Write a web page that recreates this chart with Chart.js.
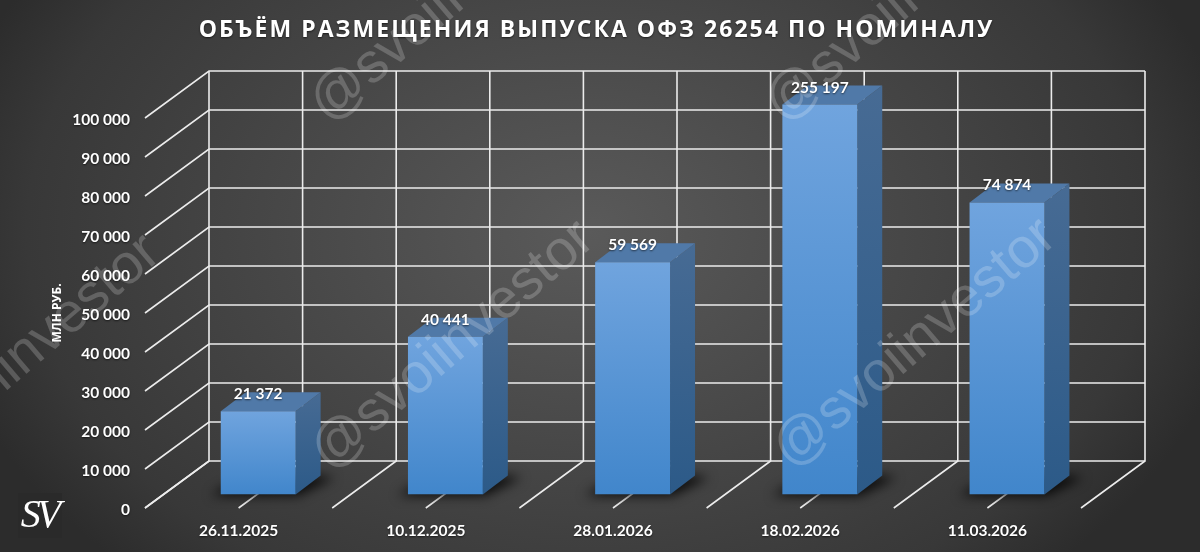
<!DOCTYPE html>
<html><head><meta charset="utf-8">
<style>
html,body{margin:0;padding:0;width:1200px;height:552px;overflow:hidden;background:#333}
#w{position:relative;width:1200px;height:552px;background:radial-gradient(ellipse 660px 470px at 49% 42%,#5a5a5a 0%,#484848 45%,#383838 85%,#2c2c2c 100%)}
</style>
<script src="https://cdn.jsdelivr.net/npm/chart.js@4"></script>
</head><body><div id="w"><canvas id="c" width="1200" height="552"></canvas></div>
<script>
const categories=['26.11.2025','10.12.2025','28.01.2026','18.02.2026','11.03.2026'];
const volumes=[21372,40441,59569,255197,74874];
const axisMax=100000;
const axisStep=10000;
const titleText='ОБЪЁМ РАЗМЕЩЕНИЯ ВЫПУСКА ОФЗ 26254 ПО НОМИНАЛУ';
const axisTitle='МЛН РУБ.';
const watermark='@svoiinvestor';
const fmt=v=>String(v).replace(/\B(?=(\d{3})+$)/g,' ');
const FONT='Lato';
const wall={dx:64,dy:-47};
const barShift={dx:19.6,dy:-13.5};
const depth={dx:25,dy:-19};

function softShadow(c){c.shadowColor='rgba(0,0,0,.6)';c.shadowBlur=2;c.shadowOffsetY=1;}
const scene={
  id:'scene',
  afterLayout(chart){
    const t=chart.titleBlock,c=chart.ctx;
    if(t&&!t._w){t._w=true;const d=t.draw.bind(t);
      t.draw=function(){c.save();c.letterSpacing='2.05px';c.translate(56,1);softShadow(c);d();c.restore();};}
    const sy=chart.scales.y,sx=chart.scales.x;
    if(!sy._w){sy._w=true;const o=sy.drawLabels.bind(sy);
      sy.drawLabels=function(a){c.save();c.translate(0,2);softShadow(c);o(a);c.restore();};
      const ox=sx.drawLabels.bind(sx);
      sx.drawLabels=function(a){c.save();softShadow(c);ox(a);c.restore();};}
  },
  beforeDatasetsDraw(chart){
    const c=chart.ctx,x=chart.scales.x,y=chart.scales.y,a=chart.chartArea;
    c.save();
    c.strokeStyle='#ececec';c.lineWidth=1.6;
    y.ticks.forEach(t=>{
      const py=y.getPixelForValue(t.value);
      c.beginPath();c.moveTo(a.left,py);c.lineTo(a.left+wall.dx,py+wall.dy);c.lineTo(a.right+wall.dx,py+wall.dy);c.stroke();
    });
    const n=categories.length,step=(x.getPixelForTick(1)-x.getPixelForTick(0))/2;
    for(let i=0;i<=2*n;i++){
      const fx=a.left+i*step;
      c.beginPath();c.moveTo(fx,a.bottom);c.lineTo(fx+wall.dx,a.bottom+wall.dy);c.lineTo(fx+wall.dx,a.top+wall.dy);c.stroke();
    }
    c.restore();
    c.save();
    c.translate(barShift.dx,barShift.dy);
    const meta=chart.getDatasetMeta(0);
    meta.data.forEach(b=>{
      const l=b.x-b.width/2,r=b.x+b.width/2,yb=a.bottom;
      c.save();c.filter='blur(6px)';c.fillStyle='rgba(0,0,0,.85)';
      c.beginPath();c.moveTo(l-10,yb+1);c.lineTo(r+2,yb+1);c.lineTo(r+depth.dx+14,yb+depth.dy+2);c.lineTo(r+depth.dx-5,yb+depth.dy);c.lineTo(l+5,yb-8);c.closePath();c.fill();c.restore();
    });
    meta.data.forEach((b,i)=>{
      const v=Math.min(volumes[i],axisMax),top=y.getPixelForValue(v),yb=a.bottom;
      const l=b.x-b.width/2,r=b.x+b.width/2;
      const g=c.createLinearGradient(0,top+depth.dy,0,yb);
      g.addColorStop(0,'#476b94');g.addColorStop(1,'#2c5a88');
      c.fillStyle=g;
      c.beginPath();c.moveTo(r,top);c.lineTo(r+depth.dx,top+depth.dy);c.lineTo(r+depth.dx,yb+depth.dy);c.lineTo(r,yb);c.closePath();c.fill();
      c.fillStyle='#5079a8';
      c.beginPath();c.moveTo(l,top);c.lineTo(r,top);c.lineTo(r+depth.dx,top+depth.dy);c.lineTo(l+depth.dx,top+depth.dy);c.closePath();c.fill();
    });
  },
  afterDatasetsDraw(chart){
    const c=chart.ctx,y=chart.scales.y,meta=chart.getDatasetMeta(0);
    c.save();
    c.fillStyle='#fff';c.font='bold 15.5px '+FONT;c.textAlign='center';c.textBaseline='middle';
    softShadow(c);
    meta.data.forEach((b,i)=>{
      const top=y.getPixelForValue(Math.min(volumes[i],axisMax));
      c.fillText(fmt(volumes[i]),b.x,top-17);
    });
    c.restore();
    c.restore();
  },
  afterDraw(chart){
    const c=chart.ctx;
    [[328,124],[329,472],[783,124],[791,470],[-105,486]].forEach(p=>{
      c.save();c.translate(p[0],p[1]);c.rotate(-40.5*Math.PI/180);
      c.font='56px "Liberation Sans"';c.fillStyle='rgba(255,255,255,.2)';c.textBaseline='alphabetic';
      c.fillText(watermark,0,0);c.restore();
    });
    c.save();c.fillStyle='#2a2a2a';c.fillRect(18,493,44,45);
    c.fillStyle='#fff';c.font='italic 40px "Liberation Serif"';c.textAlign='center';c.textBaseline='middle';
    c.letterSpacing='-4px';
    c.fillText('SV',39,516);c.restore();
  }
};

new Chart(document.getElementById('c'),{
  type:'bar',
  data:{labels:categories,datasets:[{
    label:'Объём',data:volumes,barPercentage:0.4,categoryPercentage:1,
    backgroundColor(ctx){
      const ch=ctx.chart,y=ch.scales.y,i=ctx.dataIndex;
      if(!y||i===undefined)return '#5a9bdc';
      const top=y.getPixelForValue(Math.min(volumes[i],axisMax)),bot=y.getPixelForValue(0);
      if(!isFinite(top)||!isFinite(bot))return '#5a9bdc';
      const g=ch.ctx.createLinearGradient(0,top,0,bot);
      g.addColorStop(0,'#70a4de');g.addColorStop(1,'#4186cb');
      return g;
    }
  }]},
  options:{
    responsive:false,animation:false,
    layout:{padding:{left:0,right:119,top:0,bottom:0}},
    plugins:{
      legend:{display:false},tooltip:{enabled:false},
      title:{display:true,text:titleText,color:'#fff',font:{family:'"Open Sans"',size:23,weight:'bold',lineHeight:1.2},padding:{top:16,bottom:74.4}}
    },
    scales:{
      x:{grid:{display:false},border:{display:false},
        afterFit(s){s.height=44;},
        ticks:{color:'#fff',font:{family:FONT,size:15.5,weight:'bold'},padding:6,maxRotation:0,autoSkip:false}},
      y:{min:0,max:axisMax,grid:{display:false},border:{display:false},
        afterFit(s){s.width=145;},
        ticks:{stepSize:axisStep,color:'#fff',font:{family:FONT,size:15.5,weight:'bold'},padding:7,callback:v=>fmt(v)},
        title:{display:true,text:axisTitle,color:'#fff',font:{family:'"Open Sans"',size:12,weight:'bold'},padding:{top:50,bottom:0}}}
    }
  },
  plugins:[scene]
});
</script></body></html>
